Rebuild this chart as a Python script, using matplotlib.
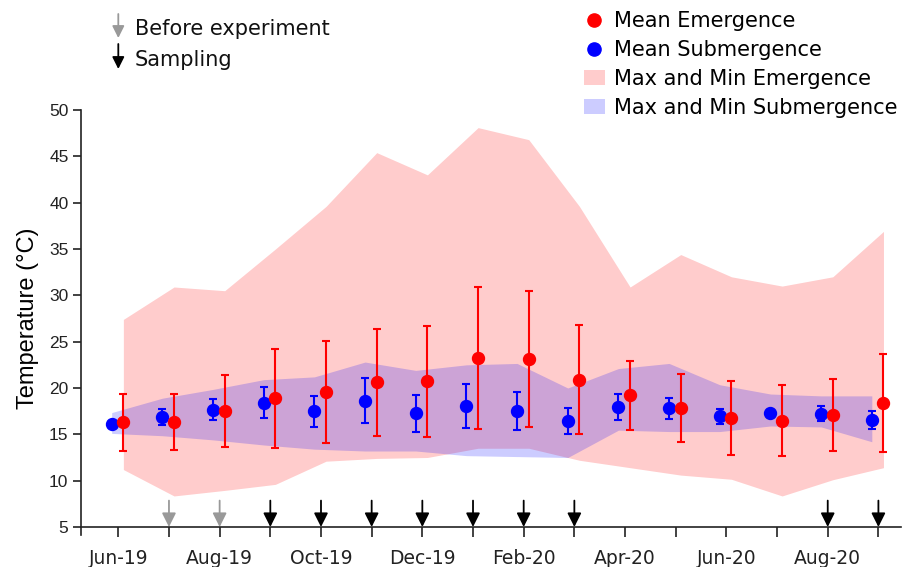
import numpy as np
import matplotlib.pyplot as plt
from matplotlib.lines import Line2D
from matplotlib.patches import Patch


months = ['Jun-19', 'Jul-19', 'Aug-19', 'Sep-19', 'Oct-19', 'Nov-19', 'Dec-19', 'Jan-20',
          'Feb-20', 'Mar-20', 'Apr-20', 'May-20', 'Jun-20', 'Jul-20', 'Aug-20', 'Sep-20']

# emergence (red)
emer_mean = [16.3, 16.35, 17.55, 18.9, 19.6, 20.6, 20.73, 23.2,
             23.15, 20.9, 19.2, 17.85, 16.8, 16.44, 17.1, 18.4]
emer_err = [3.1, 3.05, 3.87, 5.35, 5.5, 5.76, 5.98, 7.65,
            7.37, 5.88, 3.68, 3.71, 4.0, 3.83, 3.9, 5.3]
emer_max = [27.4, 30.9, 30.5, 35.0, 39.6, 45.4, 43.0, 48.1,
            46.8, 39.6, 30.9, 34.4, 32.0, 31.0, 32.0, 36.9]
emer_min = [11.2, 8.35, 8.95, 9.6, 12.1, 12.4, 12.5, 13.5,
            13.5, 12.2, 11.4, 10.6, 10.15, 8.35, 10.1, 11.4]

# submergence (blue)
subm_mean = [16.12, 16.9, 17.65, 18.42, 17.48, 18.62, 17.27, 18.04,
             17.52, 16.42, 17.95, 17.8, 16.95, 17.3, 17.2, 16.55]
subm_err = [0.1, 0.86, 1.12, 1.66, 1.69, 2.42, 2.0, 2.36,
            2.0, 1.42, 1.45, 1.1, 0.83, 0.3, 0.81, 1.0]
subm_max = [17.35, 18.9, 19.85, 20.9, 21.2, 22.8, 21.9, 22.5,
            22.65, 20.0, 22.1, 22.65, 20.35, 19.35, 19.15, 19.15]
subm_min = [15.1, 14.85, 14.4, 13.85, 13.4, 13.2, 13.2, 12.7,
            12.6, 12.5, 15.45, 15.3, 15.3, 15.9, 15.8, 14.2]

before_exp = ['Jul-19', 'Aug-19']
sampling = ['Sep-19', 'Oct-19', 'Nov-19', 'Dec-19', 'Jan-20', 'Feb-20', 'Mar-20',
            'Aug-20', 'Sep-20']


x = np.arange(len(months))
x_red = x + 0.1
x_blue = x - 0.13

fig = plt.figure(figsize=(9.18, 5.67), dpi=100)
ax = fig.add_axes([81 / 918, 1 - 527 / 567, (900.7 - 81) / 918, (527 - 110) / 567])

ax.fill_between(x_red, emer_min, emer_max, color='red', alpha=0.2, linewidth=0)
ax.fill_between(x_blue, subm_min, subm_max, color='blue', alpha=0.2, linewidth=0)

ax.errorbar(x_blue, subm_mean, yerr=subm_err, fmt='o', color='blue', ms=8.6,
            capsize=2.7, elinewidth=1.5, capthick=1.5)
ax.errorbar(x_red, emer_mean, yerr=emer_err, fmt='o', color='red', ms=8.6,
            capsize=2.7, elinewidth=1.5, capthick=1.5)

# arrows above the x axis
for m in before_exp + sampling:
    c = '#999999' if m in before_exp else 'black'
    i = months.index(m)
    ax.annotate('', xy=(i, 5.0), xytext=(i, 7.85),
                arrowprops=dict(arrowstyle='-|>', color=c, lw=1.3, mutation_scale=21,
                                shrinkA=0, shrinkB=0))

ax.set_xlim(-0.736, 15.44)
ax.set_ylim(5, 50)
ax.set_yticks(np.arange(5, 51, 5))
ax.set_xticks(x)
ax.set_xticklabels([m if i % 2 == 0 else '' for i, m in enumerate(months)],
                   family='DejaVu Sans', fontsize=13.5)
for lab in ax.get_yticklabels():
    lab.set_family('Liberation Sans')
    lab.set_fontsize(12.5)
ax.tick_params(axis='x', direction='out', length=7, width=1.2, pad=9, colors='#222222')
ax.tick_params(axis='y', direction='out', length=6, width=1.2, pad=3, colors='#222222')
ax.spines['top'].set_visible(False)
ax.spines['right'].set_visible(False)
ax.spines['left'].set_linewidth(1.2)
ax.spines['bottom'].set_linewidth(1.2)
ax.spines['left'].set_color('#222222')
ax.spines['bottom'].set_color('#222222')
ax.spines['left'].set_bounds(4.15, 50)
ax.set_ylabel('Temperature (°C)', family='Liberation Sans', fontsize=17, labelpad=7)

# arrow key (top left)
for y0, y1, yt, c, txt in [(14, 38, 29, '#999999', 'Before experiment'),
                           (44, 69, 60, 'black', 'Sampling')]:
    ax.annotate('', xy=(118.3 / 918, 1 - y1 / 567), xytext=(118.3 / 918, 1 - y0 / 567),
                xycoords='figure fraction', textcoords='figure fraction',
                arrowprops=dict(arrowstyle='-|>', color=c, lw=1.3, mutation_scale=18,
                                shrinkA=0, shrinkB=0), annotation_clip=False)
    fig.text(135 / 918, 1 - yt / 567, txt, fontsize=15, family='DejaVu Sans',
             va='center', ha='left', color='#111111')

handles = [
    Line2D([], [], marker='o', color='red', linestyle='None', markersize=9.5),
    Line2D([], [], marker='o', color='blue', linestyle='None', markersize=9.5),
    Patch(facecolor='red', alpha=0.2, edgecolor='none'),
    Patch(facecolor='blue', alpha=0.2, edgecolor='none'),
]
labels = ['Mean Emergence', 'Mean Submergence', 'Max and Min Emergence', 'Max and Min Submergence']
fig.legend(handles, labels, loc='upper left', bbox_to_anchor=(584 / 918, 1 - 11 / 567),
           frameon=False, fontsize=15, handlelength=1.0, handleheight=0.75,
           handletextpad=0.45, labelspacing=0.43, borderpad=0, borderaxespad=0)

fig.savefig('out.png', dpi=100)
